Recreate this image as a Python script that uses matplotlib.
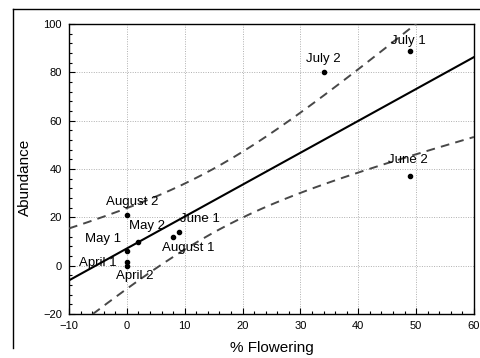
import numpy as np
import matplotlib
matplotlib.use("Agg")
import matplotlib.pyplot as plt
from matplotlib.lines import Line2D
from matplotlib.ticker import MultipleLocator

plt.rcParams['font.family'] = ['Liberation Sans', 'DejaVu Sans']

# ---- data ----
labels = ["April 1", "April 2", "May 1", "May 2", "June 1", "June 2",
          "July 1", "July 2", "August 1", "August 2"]
pct_flowering = [0, 0, 0, 2, 9, 49, 49, 34, 8, 0]
abundance = [1.5, 0, 6, 10, 14, 37, 89, 80, 12, 21]
x_ticks = [-10, 0, 10, 20, 30, 40, 50, 60]
y_ticks = [-20, 0, 20, 40, 60, 80, 100]
t_crit = 2.306  # t(0.975, df=8)

# label offsets (pixels) relative to the point
offsets = {
    "April 1": (-29, -4), "April 2": (8, -13), "May 1": (-24, 9),
    "May 2": (9, 13), "June 1": (21, 10), "June 2": (-2, 13),
    "July 1": (-2, 7), "July 2": (0, 10), "August 1": (15, -14),
    "August 2": (5, 10),
}

x = np.array(pct_flowering, float)
y = np.array(abundance, float)
n = len(x)
b, a = np.polyfit(x, y, 1)
resid = y - (a + b * x)
s = np.sqrt(np.sum(resid ** 2) / (n - 2))
sxx = np.sum((x - x.mean()) ** 2)
xg = np.linspace(-10, 60, 300)
yg = a + b * xg
se = s * np.sqrt(1 / n + (xg - x.mean()) ** 2 / sxx)

fig = plt.figure(figsize=(4.81, 3.58), dpi=100)
ax = fig.add_axes([69 / 481, 1 - 314 / 358, 405 / 481, 290 / 358])

ax.plot(xg, yg, color='black', lw=1.5, zorder=3)
ax.plot(xg, yg + t_crit * se, color='#484848', lw=1.4, dashes=(4.5, 3.2), zorder=3)
ax.plot(xg, yg - t_crit * se, color='#484848', lw=1.4, dashes=(4.5, 3.2), zorder=3)
ax.plot(x, y, 'o', color='black', ms=3, zorder=4)

for lab, xi, yi in zip(labels, pct_flowering, abundance):
    dx, dy = offsets[lab]
    ax.annotate(lab, (xi, yi), xytext=(dx, dy), textcoords='offset pixels',
                ha='center', va='baseline', fontsize=9.5, color='black', zorder=5)

ax.set_xlim(-10, 60)
ax.set_ylim(-20, 100)
ax.set_xticks(x_ticks)
ax.set_yticks(y_ticks)
ax.xaxis.set_minor_locator(MultipleLocator(2))
ax.yaxis.set_minor_locator(MultipleLocator(4))
ax.tick_params(which='both', direction='in', top=False, right=False, labelsize=8, colors='black')
ax.tick_params(which='major', length=4, width=0.8, pad=5)
ax.tick_params(which='minor', length=2.5, width=0.8)
ax.grid(True, which='major', linestyle=(0, (1, 1.5)), color='#b0b0b0', lw=0.7)
for sp in ax.spines.values():
    sp.set_linewidth(1.0)
    sp.set_color('black')

ax.set_xlabel('% Flowering', fontsize=11, labelpad=7)
ax.set_ylabel('Abundance', fontsize=11)
ax.yaxis.set_label_coords(-0.091, 0.472)

# outer frame lines
fig.add_artist(Line2D([13 / 481, 1], [1 - 9 / 358, 1 - 9 / 358], color='black', lw=1.0,
                      transform=fig.transFigure))
fig.add_artist(Line2D([13 / 481, 13 / 481], [1 - 9 / 358, 1 - 348 / 358], color='black', lw=1.0,
                      transform=fig.transFigure))

fig.savefig('out.png', dpi=100)
